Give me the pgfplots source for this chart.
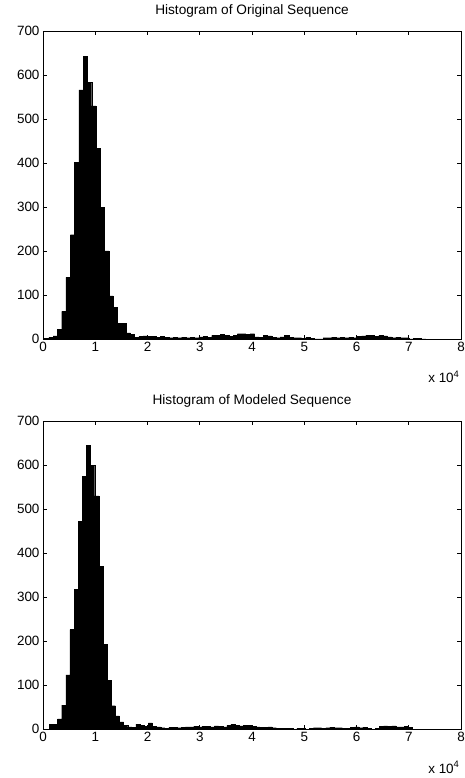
\documentclass[border=0pt]{standalone}
\usepackage{fontspec}
\setmainfont{Liberation Sans}
\usepackage{pgfplots}
\pgfplotsset{compat=1.18}

% bin edges (left) and counts; last row closes the final bin
\pgfplotstableread{
x y
300 2
1120 4
1940 7
2760 22
3580 63
4400 140
5220 237
6040 401
6860 566
7680 643
8500 584
9320 530
10140 433
10960 299
11780 200
12600 98
13420 72
14240 36
15060 36
15880 14
16700 11
17520 4
18340 6
19160 7
19980 6
20800 6
21620 4
22440 6
23260 4
24080 3
24900 4
25720 3
26540 4
27360 3
28180 4
29000 3
29820 5
30640 6
31460 4
32280 8
33100 8
33920 11
34740 9
35560 6
36380 8
37200 12
38020 12
38840 10
39660 12
40480 5
41300 4
42120 8
42940 7
43760 4
44580 3
45400 5
46220 8
47040 4
47860 3
48680 3
49500 2
50320 4
51140 1
51960 0
52780 0
53600 3
54420 3
55240 4
56060 3
56880 4
57700 3
58520 4
59340 3
60160 6
60980 7
61800 9
62620 8
63440 6
64260 9
65080 7
65900 5
66720 3
67540 4
68360 3
69180 3
70000 0
70820 2
71640 2
72460 0
73280 0
}\original

\pgfplotstableread{
x y
1200 11
1990 11
2780 23
3570 54
4360 123
5150 226
5940 318
6730 472
7520 575
8310 645
9100 600
9890 530
10680 370
11470 193
12260 111
13050 53
13840 30
14630 16
15420 9
16210 5
17000 4
17790 11
18580 8
19370 6
20160 14
20950 6
21740 5
22530 3
23320 2
24110 4
24900 4
25690 3
26480 4
27270 5
28060 5
28850 6
29640 5
30430 6
31220 6
32010 5
32800 7
33590 6
34380 5
35170 8
35960 11
36750 9
37540 7
38330 9
39120 8
39910 6
40700 5
41490 4
42280 4
43070 5
43860 3
44650 2
45440 1
46230 2
47020 1
47810 0
48600 2
49390 1
50180 0
50970 2
51760 3
52550 3
53340 2
54130 3
54920 4
55710 3
56500 3
57290 1
58080 2
58870 4
59660 5
60450 3
61240 4
62030 2
62820 0
63610 2
64400 6
65190 7
65980 6
66770 7
67560 5
68350 5
69140 6
69930 4
70720 0
}\modeled

\pgfplotsset{
  histax/.style={
    width=418bp, height=308bp, scale only axis,
    xmin=0, xmax=80000, ymin=0, ymax=700,
    xtick={0,10000,20000,30000,40000,50000,60000,70000,80000},
    xticklabels={0,1,2,3,4,5,6,7,8},
    ytick={0,100,...,700},
    scaled x ticks=false,
    tick align=inside, xtick pos=both, ytick pos=both,
    major tick length=4bp,
    tick style={black, line width=0.5pt},
    axis line style={line width=0.6pt},
    /pgf/number format/assume math mode=true,
    ticklabel style={font=\fontsize{13.5}{16}\selectfont},
    title style={font=\fontsize{13.7}{16}\selectfont, at={(0.5,1)}, anchor=base, yshift=11bp},
    clip=false,
  },
  histbar/.style={ybar interval, fill=black, draw=black, line width=0.2pt},
}

\begin{document}
\begin{tikzpicture}
  \useasboundingbox (-43bp,-49bp) rectangle (422bp,729bp);

  \begin{axis}[histax, at={(0,390bp)}, title={Histogram of Original Sequence}]
    \addplot[histbar] table[x=x, y=y] {\original};
    \node[anchor=base east, font=\fontsize{13.5}{16}\selectfont]
      at (rel axis cs:1,0) [xshift=2bp, yshift=-44bp] {x 10\textsuperscript{4}};
  \end{axis}

  \begin{axis}[histax, at={(0,0)}, title={Histogram of Modeled Sequence}]
    \addplot[histbar] table[x=x, y=y] {\modeled};
    \node[anchor=base east, font=\fontsize{13.5}{16}\selectfont]
      at (rel axis cs:1,0) [xshift=2bp, yshift=-44bp] {x 10\textsuperscript{4}};
  \end{axis}
\end{tikzpicture}
\end{document}
